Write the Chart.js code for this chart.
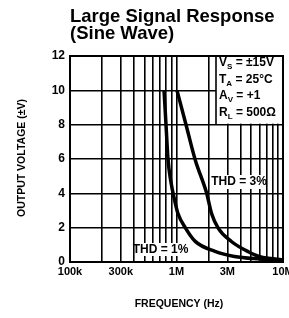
<!DOCTYPE html>
<html><head><meta charset="utf-8">
<script src="https://cdn.jsdelivr.net/npm/chart.js@4"></script>
<style>html,body{margin:0;padding:0;background:#fff}</style>
</head><body>
<canvas id="c" width="289" height="318"></canvas>
<script>
// Data
const freqThd1 = [764e3, 797e3, 832e3, 880e3, 960e3, 1.03e6, 1.22e6, 1.5e6, 2.3e6, 3.5e6, 6.08e6, 10e6];
const voltThd1 = [10, 8, 6, 4.78, 3.6, 2.84, 1.96, 1.2, 0.62, 0.32, 0.17, 0.08];
const freqThd3 = [1.01e6, 1.22e6, 1.5e6, 1.92e6, 2.13e6, 2.47e6, 3.3e6, 4.72e6, 6.08e6, 10e6];
const voltThd3 = [10, 8.07, 5.94, 4, 2.84, 1.96, 1.18, 0.6, 0.31, 0.12];
const xGridValues = [1e5,2e5,3e5,4e5,5e5,6e5,7e5,8e5,9e5,1e6,2e6,3e6,4e6,5e6,6e6,7e6,8e6,9e6,1e7];
const xTickLabels = {100000:'100k', 300000:'300k', 1000000:'1M', 3000000:'3M', 10000000:'10M'};
const yTicks = [0,2,4,6,8,10,12];
const titleLines = ['Large Signal Response', '(Sine Wave)'];
const conditionLines = [['V','S',' = ±15V'], ['T','A',' = 25°C'], ['A','V',' = +1'], ['R','L',' = 500Ω']];
const seriesLabels = ['THD = 1%', 'THD = 3%'];
const xTitle = 'FREQUENCY (Hz)';
const yTitle = 'OUTPUT VOLTAGE (±V)';

const FAM = "'Liberation Sans Narrow','Liberation Sans',Arial,sans-serif";
const FAMW = "'Liberation Sans',Arial,sans-serif";

const toPts = (xs, ys) => xs.map((x, i) => ({x, y: ys[i]}));

const annot = {
  id: 'annot',
  beforeDatasetsDraw(chart) {
    const ctx = chart.ctx, a = chart.chartArea;
    const ys = chart.scales.y;
    ctx.save();
    // condition box
    const bx = 216, by = a.top, bb = ys.getPixelForValue(8);
    ctx.fillStyle = '#fff';
    ctx.fillRect(bx, by + 1, a.right - bx - 1, bb - by - 2);
    ctx.strokeStyle = '#000'; ctx.lineWidth = 1.6;
    ctx.beginPath(); ctx.moveTo(bx, by); ctx.lineTo(bx, bb); ctx.stroke();
    // series labels backgrounds
    ctx.fillStyle = '#fff';
    ctx.fillRect(136.5, 243, 48, 13);
    ctx.fillRect(215, 175, 48, 14);
    ctx.fillStyle = '#000';
    ctx.textBaseline = 'middle';
    ctx.textAlign = 'center';
    ctx.font = "bold 12px " + FAM;
    ctx.fillText(seriesLabels[0], 160.5, 250);
    ctx.fillText(seriesLabels[1], 239, 182);
    // conditions
    ctx.textAlign = 'left';
    conditionLines.forEach((ln, i) => {
      const y = 63 + i * 16.5;
      let x = 219;
      ctx.font = "bold 12px " + FAM;
      ctx.fillText(ln[0], x, y); x += ctx.measureText(ln[0]).width;
      ctx.font = "bold 8px " + FAM;
      ctx.fillText(ln[1], x, y + 4); x += ctx.measureText(ln[1]).width;
      ctx.font = "bold 12px " + FAM;
      ctx.fillText(ln[2], x, y);
    });
    ctx.restore();
  },
  afterDraw(chart) {
    const ctx = chart.ctx, a = chart.chartArea;
    ctx.save();
    ctx.fillStyle = '#000';
    ctx.textBaseline = 'middle';
    ctx.textAlign = 'left';
    ctx.font = "bold 18.5px " + FAMW;
    ctx.fillText(titleLines[0], 70, 17);
    ctx.fillText(titleLines[1], 70, 34);
    // axis titles
    ctx.font = "bold 10.5px " + FAM;
    ctx.textAlign = 'center';
    ctx.fillText(xTitle, 179, 304);
    ctx.translate(22.5, 158);
    ctx.rotate(-Math.PI / 2);
    ctx.fillText(yTitle, 0, 0);
    ctx.restore();
    // frame
    ctx.save();
    ctx.strokeStyle = '#000'; ctx.lineWidth = 2;
    ctx.strokeRect(a.left, a.top, a.right - a.left, a.bottom - a.top);
    ctx.restore();
  }
};

new Chart(document.getElementById('c'), {
  type: 'line',
  data: {
    datasets: [
      {label: seriesLabels[0], data: toPts(freqThd1, voltThd1), borderColor: '#000', borderWidth: 3.5, pointRadius: 0, cubicInterpolationMode: 'monotone', fill: false},
      {label: seriesLabels[1], data: toPts(freqThd3, voltThd3), borderColor: '#000', borderWidth: 3.5, pointRadius: 0, cubicInterpolationMode: 'monotone', fill: false}
    ]
  },
  options: {
    responsive: false,
    animation: false,
    devicePixelRatio: 1,
    layout: {padding: {left: 0, right: 6, top: 56, bottom: 0}},
    plugins: {legend: {display: false}, title: {display: false}, tooltip: {enabled: false}},
    scales: {
      x: {
        type: 'logarithmic', min: 1e5, max: 1e7,
        afterBuildTicks: s => { s.ticks = xGridValues.map(v => ({value: v})); },
        afterFit: s => { s.height = 56; s.paddingLeft = 0; s.paddingRight = 0; },
        grid: {color: '#000', lineWidth: 1.6, drawTicks: false},
        border: {display: false},
        ticks: {
          autoSkip: false, maxRotation: 0, minRotation: 0, padding: 3,
          color: '#000', font: {family: FAM, size: 11, weight: 'bold'},
          callback: v => xTickLabels[Math.round(v)] || ''
        }
      },
      y: {
        min: 0, max: 12,
        afterBuildTicks: s => { s.ticks = yTicks.map(v => ({value: v})); },
        afterFit: s => { s.width = 70; s.paddingTop = 0; s.paddingBottom = 0; },
        grid: {color: '#000', lineWidth: 1.6, drawTicks: false},
        border: {display: false},
        ticks: {padding: 5, color: '#000', font: {family: FAM, size: 12, weight: 'bold'}}
      }
    }
  },
  plugins: [annot]
});
</script>
</body></html>
